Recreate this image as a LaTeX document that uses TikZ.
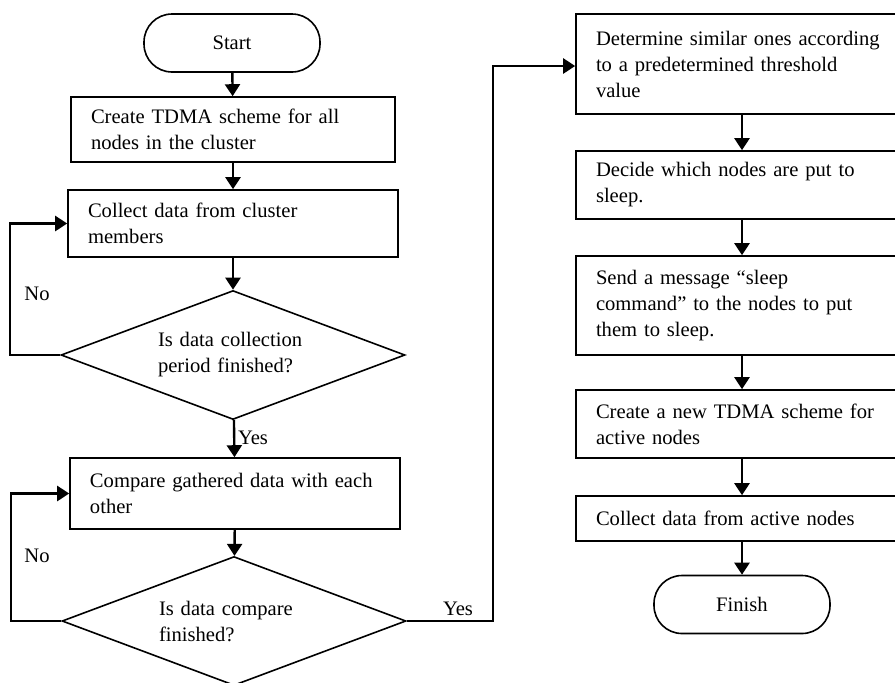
\documentclass[tikz,border=0pt]{standalone}
\usepackage{fontspec}
\setmainfont{Liberation Serif}
\usepackage{tikz}
\usetikzlibrary{shapes, arrows.meta, positioning}
\newcommand{\flowfont}{\fontsize{10.3}{13}\selectfont\hyphenpenalty=10000\relax}

\begin{document}
\begin{tikzpicture}
  [
    x=0.5pt, y=-0.5pt,
    font=\flowfont,
    Term/.style={rectangle, rounded corners=14pt, draw=black, line width=0.8pt, minimum width=88pt, minimum height=29pt},
    Box/.style={rectangle, draw=black, line width=0.8pt, align=left, inner xsep=10pt, inner ysep=2pt},
    Decision/.style={diamond, draw=black, line width=0.8pt, aspect=2.7, inner sep=0pt, align=left, text width=75pt, minimum width=172pt, minimum height=64.5pt},
    Flow/.style={-{Triangle[length=6pt, width=7.5pt]}, line width=1.2pt}
  ]
  \useasboundingbox (0,0) rectangle (895,682);

  % Nodes
  \node[Term] (start) at(232, 43) {Start};

  \node[Box, text width=142pt, minimum height=32.5pt] (tdma) at(233, 129.5) {Create TDMA scheme for all\\nodes in the cluster};

  \node[Box, text width=145pt, minimum height=33.5pt] (collect) at(233, 223.5) {Collect data from cluster\\members};

  \node[Decision] (period) at(233, 355) {Is data collection\\period finished?};

  \node[Box, text width=145pt, minimum height=35.5pt] (compare) at(235, 493.5) {Compare gathered data with each\\other};

  \node[Decision] (cmpdone) at(234, 621) {Is data compare\\finished?};

  \node[Box, text width=146pt, minimum height=50pt] (similar) at(742, 64) {Determine similar ones according\\to a predetermined threshold\\value};

  \node[Box, text width=146pt, minimum height=34pt] (decide) at(742, 185) {Decide which nodes are put to\\sleep.};

  \node[Box, text width=146pt, minimum height=49.5pt] (send) at(742, 305.5) {Send a message “sleep\\command” to the nodes to put\\them to sleep.};

  \node[Box, text width=146pt, minimum height=34pt] (newtdma) at(742, 424) {Create a new TDMA scheme for\\active nodes};

  \node[Box, text width=146pt, minimum height=22.5pt] (active) at(742, 518.5) {Collect data from active nodes};

  \node[Term] (finish) at(742, 604.5) {Finish};

  \node (no1) at(37, 294) {No};
  \node (yes1) at(253, 438) {Yes};
  \node (no2) at(37, 556) {No};
  \node (yes2) at(458, 609) {Yes};

  % Lines
  \path [Flow, draw] (start) -- (tdma);
  \path [Flow, draw] (tdma) -- (collect);
  \path [Flow, draw] (collect) -- (period);
  \path [Flow, draw] (period) -- (compare);
  \path [Flow, draw] (compare) -- (cmpdone);
  \path [Flow, draw] (period.west) -- ++(-50, 0) |- (collect.west);
  \path [Flow, draw] (cmpdone.west) -- ++(-50, 0) |- (compare.west);
  \path [Flow, draw] (cmpdone.east) -- ++(86, 0) |- ([yshift=-1pt]similar.west);
  \path [Flow, draw] (similar) -- (decide);
  \path [Flow, draw] (decide) -- (send);
  \path [Flow, draw] (send) -- (newtdma);
  \path [Flow, draw] (newtdma) -- (active);
  \path [Flow, draw] (active) -- (finish);

\end{tikzpicture}
\end{document}
